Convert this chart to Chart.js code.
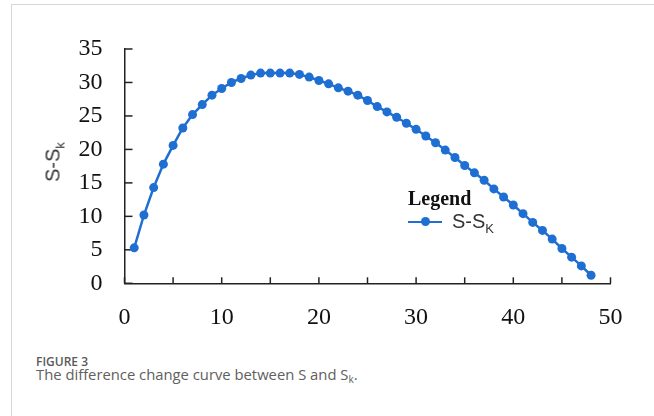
<!DOCTYPE html>
<html><head><meta charset="utf-8">
<script src="https://cdn.jsdelivr.net/npm/chart.js@4/dist/chart.umd.min.js"></script>
<style>
html,body{margin:0;padding:0;background:#fff;width:654px;height:416px;overflow:hidden;position:relative;}
#frame{position:absolute;left:11px;top:4px;width:700px;height:420px;border-left:1px solid #d6d6d6;border-top:1px solid #d6d6d6;}
#wrap{position:absolute;left:0;top:0;width:654px;height:340px;}
.abs{position:absolute;white-space:nowrap;}
#ytitle{left:53.5px;top:162px;transform:translate(-50%,-50%) rotate(-90deg);font-family:"Liberation Sans";font-size:20px;line-height:20px;color:#333;}
#ytitle sub,#lbl sub{font-size:13px;vertical-align:baseline;position:relative;top:5px;}
#legtitle{left:408px;top:188px;font-family:"Liberation Serif";font-weight:bold;font-size:20px;line-height:20px;color:#111;}
#legline{left:408px;top:220.5px;width:34px;height:2.5px;}
#legdot{left:420.5px;top:217.2px;width:9px;height:9px;border-radius:50%;}
#lbl{left:452px;top:211px;font-family:"Liberation Sans";font-size:20px;line-height:20px;color:#333;}
#fig{left:36px;top:356px;font-family:"Open Sans";font-weight:600;font-size:12px;line-height:12px;color:#5a5a5a;}
#cap{left:36px;top:366.5px;font-family:"Open Sans";font-size:14.8px;line-height:15px;color:#606060;}
#cap sub{font-size:10px;vertical-align:baseline;position:relative;top:3px;color:#606060;}
</style></head>
<body>
<div id="frame"></div>
<div id="wrap"><canvas id="c" width="654" height="340"></canvas></div>
<div id="ytitle" class="abs">S-S<sub>k</sub></div>
<div id="legtitle" class="abs">Legend</div>
<div id="legline" class="abs"></div>
<div id="legdot" class="abs"></div>
<div id="lbl" class="abs">S-S<sub>K</sub></div>
<div id="fig" class="abs">FIGURE 3</div>
<div id="cap" class="abs">The difference change curve between S and S<sub>k</sub>.</div>
<script>
const seriesName = "S-S_K";
const xValues = [1,2,3,4,5,6,7,8,9,10,11,12,13,14,15,16,17,18,19,20,21,22,23,24,25,26,27,28,29,30,31,32,33,34,35,36,37,38,39,40,41,42,43,44,45,46,47,48];
const yValues = [5.3,10.2,14.3,17.8,20.6,23.2,25.2,26.7,28.1,29.1,30.0,30.6,31.1,31.4,31.4,31.4,31.4,31.2,30.8,30.3,29.8,29.2,28.7,28.1,27.3,26.4,25.6,24.8,23.9,23.0,22.0,21.0,19.9,18.8,17.6,16.5,15.4,14.1,12.9,11.7,10.4,9.1,7.9,6.6,5.2,3.9,2.6,1.2];
const xTickLabels = [0,10,20,30,40,50];
const yTickLabels = [0,5,10,15,20,25,30,35];

const BLUE = '#1f6fd2';
document.getElementById('legline').style.background = BLUE;
document.getElementById('legdot').style.background = BLUE;

const CH = 340;
const innerTicks = {
  id:'innerTicks',
  beforeDatasetsDraw(chart){
    const {ctx, chartArea:a, scales:{x,y}} = chart;
    ctx.save();
    ctx.strokeStyle = '#222'; ctx.lineWidth = 1.5;
    x.ticks.forEach(t=>{const px=x.getPixelForValue(t.value);ctx.beginPath();ctx.moveTo(px,a.bottom);ctx.lineTo(px,a.bottom-6);ctx.stroke();});
    y.ticks.forEach(t=>{const py=y.getPixelForValue(t.value);ctx.beginPath();ctx.moveTo(a.left,py);ctx.lineTo(a.left+8,py);ctx.stroke();});
    ctx.restore();
  }
};

new Chart(document.getElementById('c'), {
  type:'scatter',
  data:{datasets:[{
    label: seriesName,
    data: xValues.map((v,i)=>({x:v,y:yValues[i]})),
    showLine:true,
    borderColor:BLUE, backgroundColor:BLUE,
    borderWidth:2.5, pointRadius:4.5, pointBorderWidth:0,
    pointBackgroundColor:BLUE, clip:false
  }]},
  options:{
    responsive:false, animation:false,
    layout:{padding:{top:49,right:43.5,left:0,bottom:0}},
    plugins:{legend:{display:false},tooltip:{enabled:false}},
    scales:{
      x:{type:'linear',min:0,max:50,
        afterBuildTicks:s=>{const t=[];for(let v=0;v<=50;v+=5)t.push({value:v});s.ticks=t;},
        ticks:{autoSkip:false,maxRotation:0,padding:20,color:'#111',
          font:{family:'Liberation Serif',size:24},
          callback:v=> xTickLabels.includes(v)?String(v):''},
        grid:{display:false,drawTicks:false},
        border:{display:true,color:'#222',width:1.5},
        afterFit:s=>{s.height = CH-283.3;}
      },
      y:{min:0,max:35,
        afterBuildTicks:s=>{s.ticks=yTickLabels.map(v=>({value:v}));},
        ticks:{padding:22,color:'#111',font:{family:'Liberation Serif',size:24}},
        grid:{display:false,drawTicks:false},
        border:{display:true,color:'#222',width:1.5},
        afterFit:s=>{s.width=124.5;}
      }
    }
  },
  plugins:[innerTicks]
});
</script>
</body></html>
